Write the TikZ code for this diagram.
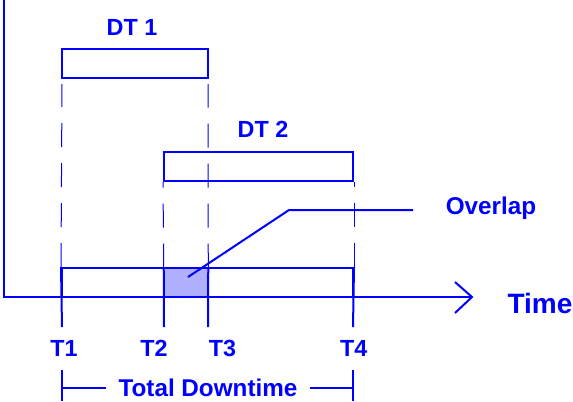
\documentclass[tikz,border=0pt]{standalone}
\usepackage{fontspec}
\setmainfont{Liberation Sans}
\usetikzlibrary{fit}
\definecolor{lineblue}{HTML}{0000FF}
\definecolor{overlapfill}{HTML}{B0B0FF}
\begin{document}
\begin{tikzpicture}[x=0.75pt,y=-0.75pt,
  solidline/.style={draw=lineblue, line width=1.5pt},
  guide/.style={draw=lineblue, line width=0.75pt, dash pattern=on 18pt off 12pt},
  barbox/.style={draw=lineblue, line width=1.5pt, inner sep=0pt},
  lbl/.style={text=lineblue, font=\bfseries\fontsize{17.5}{20}\selectfont, inner sep=0pt, anchor=base},
  widelbl/.style={lbl, font=\bfseries\fontsize{18.2}{21}\selectfont},
  biglbl/.style={lbl, font=\bfseries\fontsize{21}{24}\selectfont}]
\useasboundingbox (0,0) rectangle (573,401);
% axes
\coordinate (ytop) at (4,0);
\coordinate (origin) at (4,297);
\coordinate (xend) at (472,297);
\coordinate (arrA) at (455,282);
\coordinate (arrB) at (455,313);
\draw[solidline] (ytop) -- (origin) -- (xend);
\draw[solidline, line join=miter] (arrA) -- (xend) -- (arrB);
% boxes
\node[barbox, fit={(62,49) (208,78)}] (dtone) {};
\node[barbox, fit={(164,152) (353,181)}] (dttwo) {};
\node[fill=overlapfill, inner sep=0pt, fit={(164,268) (208,297)}] (ovl) {};
\node[barbox, fit={(62,268) (353,297)}] (total) {};
% guide lines (drawn upward from the total bar)
\coordinate (gA) at (62,84);
\coordinate (gB) at (208,84);
\draw[guide] (total.north west) -- (gA);
\draw[guide] (ovl.north east) -- (gB);
\draw[guide] (ovl.north west) -- (dttwo.south west);
\draw[guide] (total.north east) -- (dttwo.south east);
% ticks
\coordinate (k1) at (62,327);
\coordinate (k2) at (164,327);
\coordinate (k3) at (208,327);
\coordinate (k4) at (353,327);
\draw[solidline] (total.north west) -- (k1);
\draw[solidline] (ovl.north west) -- (k2);
\draw[solidline] (ovl.north east) -- (k3);
\draw[solidline] (total.north east) -- (k4);
% labels
\node[lbl] (ldtone) at (132,35.7) {DT 1};
\node[lbl] (ldttwo) at (263,137.7) {DT 2};
\node[widelbl] (lover) at (491,214) {Overlap};
\node[biglbl] (ltime) at (540,313) {Time};
\node[lbl] (lt1) at (64,356.7) {T1};
\node[lbl] (lt2) at (154,356.7) {T2};
\node[lbl] (lt3) at (222.5,356.7) {T3};
\node[lbl] (lt4) at (353.7,356.7) {T4};
\node[widelbl] (ltotal) at (208,396.7) {Total Downtime};
% overlap leader
\coordinate (lead0) at (188,277);
\coordinate (lead1) at (289,210);
\coordinate (lead2) at (413,210);
\draw[solidline] (lead0) -- (lead1) -- (lead2);
% total downtime bracket
\coordinate (bLt) at (62,370);
\coordinate (bLb) at (62,401);
\coordinate (bLm) at (62,388);
\coordinate (bLe) at (106,388);
\coordinate (bRt) at (353,370);
\coordinate (bRb) at (353,401);
\coordinate (bRm) at (353,388);
\coordinate (bRe) at (310,388);
\draw[solidline] (bLt) -- (bLb);
\draw[solidline] (bLm) -- (bLe);
\draw[solidline] (bRt) -- (bRb);
\draw[solidline] (bRm) -- (bRe);
\end{tikzpicture}
\end{document}
